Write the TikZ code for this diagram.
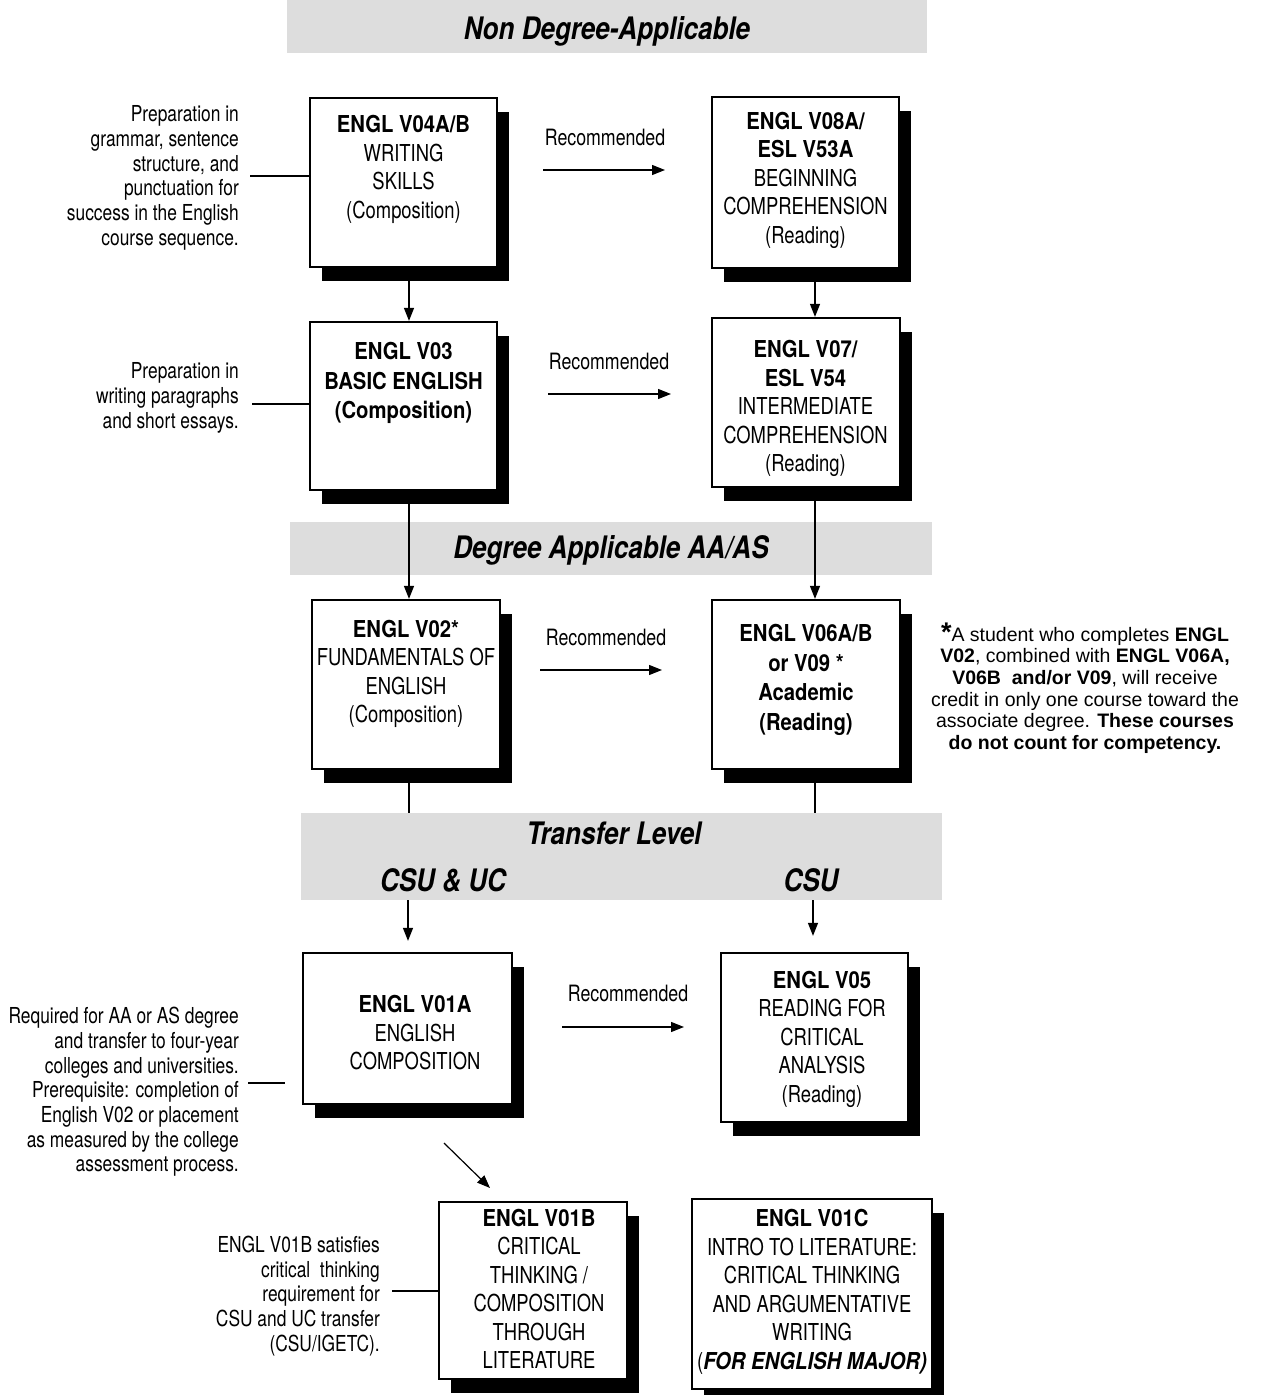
\documentclass[tikz,border=0pt]{standalone}
\usepackage{fontspec}
\setmainfont[FakeStretch=0.79]{TeX Gyre Heros}
\newfontfamily\bdf[FakeStretch=0.87]{TeX Gyre Heros}
\newfontfamily\bnf[FakeStretch=0.84]{TeX Gyre Heros}
\newfontfamily\ftf{Liberation Sans}
\newcommand{\bb}[1]{{\bdf\bfseries #1}}
\usetikzlibrary{arrows.meta,shadows}
\definecolor{band}{RGB}{221,221,221}
\begin{document}
\begin{tikzpicture}[x=1pt,y=-1pt,
  cbox/.style={draw=black, line width=2.3pt, fill=white, inner sep=0pt,
    drop shadow={shadow xshift=12pt, shadow yshift=-14pt, opacity=1, fill=black}},
  btxt/.style={align=center, inner sep=0pt, font={\fontsize{23.3}{28.5}\selectfont}},
  rec/.style={inner sep=0pt, font={\fontsize{22.5}{26}\selectfont}},
  side/.style={align=right, inner sep=0pt, anchor=east, font={\fontsize{22}{24.7}\selectfont}},
  bandbox/.style={fill=band, inner sep=0pt},
  bantxt/.style={inner sep=0pt, font={\fontsize{31}{36}\bnf\bfseries\itshape}},
  arr/.style={line width=1.2pt, -{Triangle[length=13pt,width=10pt]}},
  ln/.style={line width=1.2pt},
  foot/.style={align=center, inner sep=0pt, font={\ftf\fontsize{19.5}{21.7}\selectfont}}
]
\useasboundingbox (0,0) rectangle (1263,1395);

% bands
\node[bandbox, minimum width=640pt, minimum height=53pt] (ban1) at (607,26.5) {};
\node[bantxt] (ban1t) at (607,31) {Non Degree-Applicable};
\node[bandbox, minimum width=642pt, minimum height=53pt] (ban2) at (611,548.5) {};
\node[bantxt] (ban2t) at (611,550) {Degree Applicable AA/AS};
\node[bandbox, minimum width=641pt, minimum height=87pt] (ban3) at (621.5,856.5) {};
\node[bantxt] (ban3t) at (614,833) {Transfer Level};
\node[bantxt] (csuuc) at (443,880) {CSU \& UC};
\node[bantxt] (csu) at (811,880) {CSU};

% boxes
\node[cbox, minimum width=187pt, minimum height=169pt] (A) at (403.5,182.5) {};
\node[cbox, minimum width=187pt, minimum height=171pt] (B) at (805.5,182.5) {};
\node[cbox, minimum width=187pt, minimum height=168pt] (C) at (403.5,406) {};
\node[cbox, minimum width=188pt, minimum height=169pt] (D) at (806,402.5) {};
\node[cbox, minimum width=188pt, minimum height=169pt] (E) at (406,684.5) {};
\node[cbox, minimum width=188pt, minimum height=169pt] (F) at (806,684.5) {};
\node[cbox, minimum width=209pt, minimum height=151pt] (G) at (407.5,1028.5) {};
\node[cbox, minimum width=187pt, minimum height=169pt] (H) at (814.5,1037.5) {};
\node[cbox, minimum width=188pt, minimum height=177pt] (I) at (533,1290.5) {};
\node[cbox, minimum width=240pt, minimum height=190pt] (J) at (812,1294) {};

% box texts
\node[btxt] (At) at (403.5,169.5) {\bb{ENGL V04A/B}\\WRITING\\SKILLS\\(Composition)};
\node[btxt] (Bt) at (805.5,180) {\bb{ENGL V08A/}\\\bb{ESL V53A}\\BEGINNING\\COMPREHENSION\\(Reading)};
\node[btxt, font={\fontsize{23.3}{29.5}\selectfont}] (Ct) at (403.5,383) {\bb{ENGL V03}\\\bb{BASIC ENGLISH}\\\bb{(Composition)}};
\node[btxt] (Dt) at (805.5,408.5) {\bb{ENGL V07/}\\\bb{ESL V54}\\INTERMEDIATE\\COMPREHENSION\\(Reading)};
\node[btxt] (Et) at (406,674) {\bb{ENGL V02*}\\FUNDAMENTALS OF\\ENGLISH\\(Composition)};
\node[btxt, font={\fontsize{23.3}{29.5}\selectfont}] (Ft) at (806,680) {\bb{ENGL V06A/B}\\\bb{or V09 *}\\\bb{Academic}\\\bb{(Reading)}};
\node[btxt] (Gt) at (415,1033) {\bb{ENGL V01A}\\ENGLISH\\COMPOSITION};
\node[btxt] (Ht) at (822,1039) {\bb{ENGL V05}\\READING FOR\\CRITICAL\\ANALYSIS\\(Reading)};
\node[btxt] (It) at (539,1289) {\bb{ENGL V01B}\\CRITICAL\\THINKING /\\COMPOSITION\\THROUGH\\LITERATURE};
\node[btxt] (Jt) at (812,1292) {\bb{ENGL V01C}\\INTRO TO LITERATURE:\\CRITICAL THINKING\\AND ARGUMENTATIVE\\WRITING\\({\bdf\bfseries\itshape FOR ENGLISH MAJOR)}};

% recommended labels
\node[rec] (r1) at (605,137) {Recommended};
\node[rec] (r2) at (609,361) {Recommended};
\node[rec] (r3) at (606,637) {Recommended};
\node[rec] (r4) at (628,993) {Recommended};
\coordinate (r1s) at (543,170); \coordinate (r1e) at (665,170);
\coordinate (r2s) at (548,394); \coordinate (r2e) at (671,394);
\coordinate (r3s) at (540,670); \coordinate (r3e) at (662,670);
\coordinate (r4s) at (562,1027); \coordinate (r4e) at (684,1027);
\draw[arr] (r1s) -- (r1e);
\draw[arr] (r2s) -- (r2e);
\draw[arr] (r3s) -- (r3e);
\draw[arr] (r4s) -- (r4e);

% side notes
\node[side] (s1) at (239,178) {Preparation in\\grammar, sentence\\structure, and\\punctuation for\\success in the English\\course sequence.};
\node[side] (s2) at (239,398) {Preparation in\\writing paragraphs\\and short essays.};
\node[side] (s3) at (239,1092) {Required for AA or AS degree\\and transfer to four-year\\colleges and universities.\\Prerequisite: completion of\\English V02 or placement\\as measured by the college\\assessment process.};
\node[side] (s4) at (380,1296) {ENGL V01B satisfies\\critical~~thinking\\requirement for\\CSU and UC transfer\\(CSU/IGETC).};
\coordinate (l1) at (250,176);
\coordinate (l2) at (252,404);
\coordinate (l3) at (248,1083);
\coordinate (l4) at (392,1291);
\draw[ln] (l1) -- (l1 -| A.west);
\draw[ln] (l2) -- (l2 -| C.west);
\draw[ln, shorten >=17pt] (l3) -- (l3 -| G.west);
\draw[ln] (l4) -- (l4 -| I.west);

% footnote
\node[foot] (fn) at (1085,688) {{\fontsize{27}{20}\selectfont\bfseries*}A student who completes \textbf{ENGL}\\\textbf{V02}, combined with \textbf{ENGL V06A,}\\\textbf{V06B~~and/or V09}, will receive\\credit in only one course toward the\\associate degree. \textbf{These courses}\\\textbf{do not count for competency.}};

% vertical connectors
\coordinate (ax) at ([xshift=5.5pt]A.south);
\coordinate (bx) at ([xshift=9.5pt]B.south);
\coordinate (cx) at ([xshift=5.5pt]C.south);
\coordinate (dx) at ([xshift=9pt]D.south);
\coordinate (ex) at ([xshift=3pt]E.south);
\coordinate (fx) at ([xshift=9pt]F.south);
\coordinate (gx) at ([xshift=0.5pt]G.north);
\coordinate (hx) at ([xshift=-1.5pt]H.north);
\draw[arr] (ax) -- (ax |- C.north);
\draw[arr] (bx) -- (bx |- D.north);
\draw[arr] (cx) -- (cx |- E.north);
\draw[arr] (dx) -- (dx |- F.north);
\draw[ln] (ex) -- (ex |- ban3.north);
\draw[ln] (fx) -- (fx |- ban3.north);
\draw[arr, shorten >=11pt] (gx |- ban3.south) -- (gx);
\draw[arr, shorten >=16pt] (hx |- ban3.south) -- (hx);
\coordinate (dgs) at (444,1143);
\coordinate (dge) at (490,1188);
\draw[arr] (dgs) -- (dge);
\end{tikzpicture}
\end{document}
